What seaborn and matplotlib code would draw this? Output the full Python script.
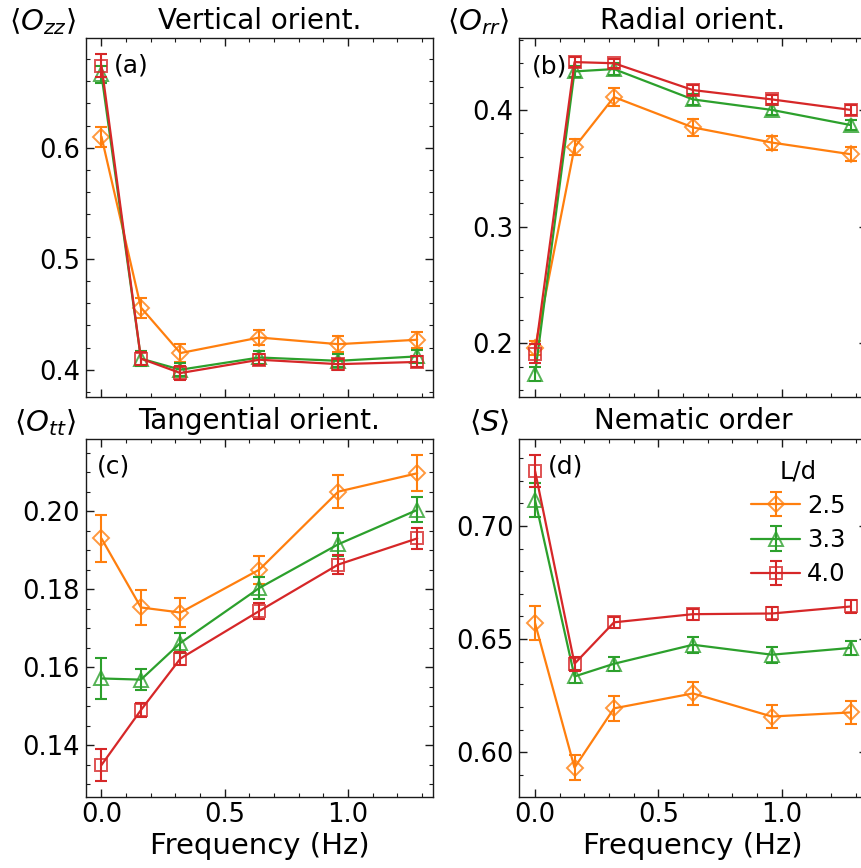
import numpy as np
import pandas as pd
import matplotlib
matplotlib.use("Agg")
import matplotlib.pyplot as plt
import seaborn as sns
from matplotlib.ticker import AutoMinorLocator, MultipleLocator
from matplotlib.legend_handler import HandlerTuple

# Driving frequency (Hz)
freq = [0.0, 0.16, 0.32, 0.64, 0.96, 1.28]

# Aspect ratios
aspect_labels = ["2.5", "3.3", "4.0"]

# <O_zz> vertical orientation
ozz_mean = [
    [0.610, 0.456, 0.415, 0.429, 0.423, 0.427],
    [0.666, 0.410, 0.400, 0.411, 0.408, 0.412],
    [0.674, 0.410, 0.397, 0.409, 0.405, 0.407],
]
ozz_err = [
    [0.009, 0.009, 0.008, 0.007, 0.007, 0.007],
    [0.008, 0.007, 0.006, 0.006, 0.006, 0.006],
    [0.010, 0.006, 0.006, 0.005, 0.005, 0.005],
]

# <O_rr> radial orientation
orr_mean = [
    [0.196, 0.368, 0.411, 0.385, 0.372, 0.362],
    [0.174, 0.433, 0.435, 0.409, 0.400, 0.387],
    [0.191, 0.441, 0.440, 0.417, 0.409, 0.400],
]
orr_err = [
    [0.006, 0.007, 0.008, 0.007, 0.006, 0.006],
    [0.006, 0.005, 0.005, 0.005, 0.004, 0.004],
    [0.008, 0.004, 0.004, 0.004, 0.004, 0.004],
]

# <O_tt> tangential orientation
ott_mean = [
    [0.1930, 0.1753, 0.1740, 0.1850, 0.2050, 0.2097],
    [0.1571, 0.1568, 0.1662, 0.1803, 0.1915, 0.2003],
    [0.1349, 0.1490, 0.1622, 0.1744, 0.1863, 0.1930],
]
ott_err = [
    [0.0060, 0.0045, 0.0036, 0.0036, 0.0042, 0.0046],
    [0.0052, 0.0027, 0.0025, 0.0029, 0.0030, 0.0032],
    [0.0040, 0.0017, 0.0017, 0.0020, 0.0024, 0.0026],
]

# <S> nematic order parameter
s_mean = [
    [0.6570, 0.5932, 0.6194, 0.6260, 0.6158, 0.6176],
    [0.7115, 0.6335, 0.6391, 0.6475, 0.6431, 0.6461],
    [0.7243, 0.6391, 0.6574, 0.6610, 0.6613, 0.6644],
]
s_err = [
    [0.0075, 0.0055, 0.0055, 0.0050, 0.0050, 0.0050],
    [0.0074, 0.0030, 0.0030, 0.0035, 0.0035, 0.0030],
    [0.0070, 0.0030, 0.0025, 0.0025, 0.0028, 0.0028],
]

sns.set_theme(style="ticks")
plt.rcParams.update({
    "font.family": ["DejaVu Sans"],
    "mathtext.fontset": "dejavusans",
    "axes.linewidth": 1.0,
    "xtick.direction": "in",
    "ytick.direction": "in",
    "xtick.top": True,
    "ytick.right": True,
    "xtick.major.size": 5.5,
    "ytick.major.size": 5.5,
    "xtick.minor.size": 3.0,
    "ytick.minor.size": 3.0,
    "xtick.major.width": 1.0,
    "ytick.major.width": 1.0,
    "xtick.minor.width": 0.8,
    "ytick.minor.width": 0.8,
    "xtick.major.pad": 4,
    "ytick.major.pad": 4,
    "xtick.labelsize": 18.5,
    "ytick.labelsize": 18.5,
    "axes.edgecolor": "#1a1a1a",
    "axes.labelcolor": "black",
    "xtick.color": "#1a1a1a",
    "ytick.color": "#1a1a1a",
    "xtick.labelcolor": "black",
    "ytick.labelcolor": "black",
    "text.color": "black",
})

colors = sns.color_palette("tab10")
series_colors = [colors[1], colors[2], colors[3]]
markers = ["D", "^", "s"]
marker_sizes = [8.0, 9.5, 8.5]

panels = [
    dict(mean=ozz_mean, err=ozz_err, ylab=r"$\langle O_{zz}\rangle$",
         title="Vertical orient.", tag="(a)", tag_xy=(0.081, 0.925),
         ylim=(0.3757, 0.6986), major=0.1,
         rect=[0.0995, 0.5430, 0.4034, 0.4129]),
    dict(mean=orr_mean, err=orr_err, ylab=r"$\langle O_{rr}\rangle$",
         title="Radial orient.", tag="(b)", tag_xy=(0.036, 0.921),
         ylim=(0.1542, 0.4614), major=0.1,
         rect=[0.6031, 0.5430, 0.4034, 0.4129]),
    dict(mean=ott_mean, err=ott_err, ylab=r"$\langle O_{tt}\rangle$",
         title="Tangential orient.", tag="(c)", tag_xy=(0.033, 0.923),
         ylim=(0.1268, 0.2185), major=0.02,
         rect=[0.0995, 0.0822, 0.4034, 0.4121]),
    dict(mean=s_mean, err=s_err, ylab=r"$\langle S\rangle$",
         title="Nematic order", tag="(d)", tag_xy=(0.083, 0.922),
         ylim=(0.5804, 0.7384), major=0.05,
         rect=[0.6031, 0.0822, 0.4034, 0.4121]),
]

fig = plt.figure(figsize=(8.61, 8.68), dpi=100)

legend_handles = []
for idx, p in enumerate(panels):
    ax = fig.add_axes(p["rect"])
    for k in range(3):
        c = series_colors[k]
        eb = ax.errorbar(freq, p["mean"][k], yerr=p["err"][k], fmt="none",
                         ecolor=c, elinewidth=1.5, capsize=4, capthick=1.5,
                         zorder=2 + k)
        df = pd.DataFrame({"freq": freq, "val": p["mean"][k]})
        sns.lineplot(data=df, x="freq", y="val", ax=ax, color=c,
                     linewidth=1.6, marker=markers[k],
                     markersize=marker_sizes[k],
                     markerfacecolor="none",
                     markeredgecolor=(*c, 0.8),
                     markeredgewidth=1.4, zorder=2 + k)
        if idx == 3:
            legend_handles.append((eb, ax.lines[-1]))

    ax.set_xlim(-0.064, 1.344)
    ax.set_ylim(*p["ylim"])
    ax.xaxis.set_major_locator(MultipleLocator(0.5))
    ax.yaxis.set_major_locator(MultipleLocator(p["major"]))
    ax.xaxis.set_minor_locator(AutoMinorLocator())
    ax.yaxis.set_minor_locator(AutoMinorLocator())
    ax.tick_params(which="both", top=True, right=True, direction="in")
    ax.set_ylabel("")
    ax.set_title(p["title"], fontsize=20, pad=7)
    ax.text(-0.028, 1.022, p["ylab"], transform=ax.transAxes,
            ha="right", va="baseline", fontsize=21)
    ax.text(p["tag_xy"][0], p["tag_xy"][1], p["tag"], transform=ax.transAxes,
            ha="left", va="center", fontsize=18)
    if idx >= 2:
        ax.set_xlabel("Frequency (Hz)", fontsize=21, labelpad=3)
    else:
        ax.set_xlabel("")
        ax.tick_params(labelbottom=False)
    for s in ax.spines.values():
        s.set_visible(True)

    if idx == 3:
        ax.legend(legend_handles, aspect_labels, title="L/d",
                  handler_map={tuple: HandlerTuple(ndivide=1)},
                  loc="upper right", frameon=False, fontsize=17.5,
                  title_fontsize=17.5, handlelength=2.0, labelspacing=0.42,
                  handletextpad=0.3, borderaxespad=0.45)

fig.savefig("out.png", dpi=100)
